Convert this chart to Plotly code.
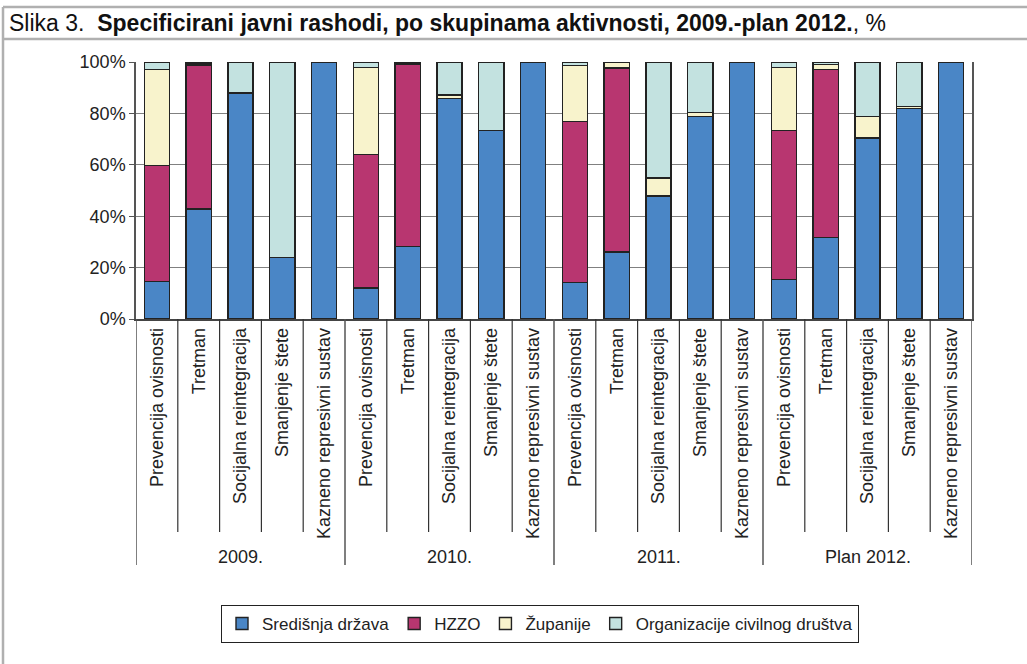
import plotly.graph_objects as go

groups = ["2009.", "2010.", "2011.", "Plan 2012."]
activities = ["Prevencija ovisnosti", "Tretman", "Socijalna reintegracija",
              "Smanjenje štete", "Kazneno represivni sustav"]

series_names = ["Središnja država", "HZZO", "Županije", "Organizacije civilnog društva"]
colors = ["#4A86C6", "#B83670", "#F8F3CC", "#C3E2E0"]

sredisnja = [14.7, 42.8, 88.0, 24.0, 100,
             12.0, 28.1, 85.7, 73.3, 100,
             14.1, 26.0, 47.9, 78.9, 100,
             15.4, 31.8, 70.4, 81.9, 100]
hzzo = [45.1, 55.8, 0, 0, 0,
        52.1, 71.2, 0, 0, 0,
        62.7, 71.7, 0, 0, 0,
        57.9, 65.3, 0, 0, 0]
zupanije = [37.3, 0.7, 0, 0, 0,
            33.8, 0, 1.5, 0, 0,
            21.9, 2.3, 7.0, 1.4, 0,
            24.5, 2.0, 8.5, 0.7, 0]
civilno = [2.9, 0.7, 12.0, 76.0, 0,
           2.1, 0.7, 12.8, 26.7, 0,
           1.3, 0, 45.1, 19.7, 0,
           2.2, 0.9, 21.1, 17.4, 0]

y_ticks = [0, 20, 40, 60, 80, 100]
y_ticktext = [f"{v}%" for v in y_ticks]

values = [sredisnja, hzzo, zupanije, civilno]
n = len(groups) * len(activities)
xs = list(range(n))
labels = [a for g in groups for a in activities]

font = "Liberation Sans, Arial, sans-serif"

fig = go.Figure()
for name, col, vals in zip(series_names, colors, values):
    fig.add_trace(go.Bar(
        x=xs, y=vals, name=name,
        marker=dict(color=col, line=dict(color="#222222", width=1.4)),
        width=0.6,
    ))

# plot-area pixel geometry helpers
L, R, T, B = 136, 972, 62, 319
W, H = 1027, 664
def px(xp):
    return (xp - L) / (R - L)
def py(yp):
    return (B - yp) / (B - T)

shapes = []
# category dividers
for i in range(n - 1):
    if (i + 1) % len(activities) != 0:
        shapes.append(dict(type="line", xref="x", yref="paper",
                           x0=i + 0.5, x1=i + 0.5, y0=0, y1=py(532),
                           line=dict(color="#333333", width=1.2)))
# group dividers
for k in range(len(groups) + 1):
    xv = k * len(activities) - 0.5
    shapes.append(dict(type="line", xref="x", yref="paper",
                       x0=xv, x1=xv, y0=0, y1=py(565),
                       line=dict(color="#555555", width=1.5)))
# outer frame
frame_col = "#B0B0B0"
shapes.append(dict(type="line", xref="paper", yref="paper",
                   x0=px(3), x1=px(3), y0=py(7), y1=py(664),
                   line=dict(color=frame_col, width=2.5)))
shapes.append(dict(type="line", xref="paper", yref="paper",
                   x0=px(3), x1=px(1027), y0=py(7), y1=py(7),
                   line=dict(color=frame_col, width=2.5)))
shapes.append(dict(type="line", xref="paper", yref="paper",
                   x0=px(3), x1=px(1027), y0=py(39), y1=py(39),
                   line=dict(color=frame_col, width=2.5)))

annotations = []
for k, g in enumerate(groups):
    annotations.append(dict(x=k * len(activities) + 2, xref="x",
                            y=py(557), yref="paper", text=g, showarrow=False,
                            xanchor="center", yanchor="middle",
                            font=dict(family=font, size=18, color="#222222")))
annotations.append(dict(x=px(7), xref="paper", y=py(23), yref="paper",
                        xanchor="left", yanchor="middle", showarrow=False,
                        text="Slika 3.  <b>Specificirani javni rashodi, po skupinama aktivnosti, 2009.-plan 2012.</b>, %",
                        font=dict(family="Liberation Sans Narrow, Arial Narrow, sans-serif",
                                  size=23, color="#111111")))

fig.update_layout(
    width=W, height=H,
    barmode="stack",
    margin=dict(l=L, r=W - R, t=T, b=H - B, autoexpand=False),
    paper_bgcolor="white", plot_bgcolor="white",
    font=dict(family=font, size=17, color="#222222"),
    showlegend=True,
    legend=dict(orientation="h", x=px(540), xanchor="center",
                y=py(605), yanchor="top",
                bordercolor="#222222", borderwidth=1,
                font=dict(family=font, size=17, color="#222222"),
                traceorder="normal", itemwidth=30),
    shapes=shapes,
    annotations=annotations,
    bargap=0.4,
)
fig.update_xaxes(
    range=[-0.5, n - 0.5], tickmode="array", tickvals=xs, ticktext=labels,
    tickangle=-90, ticks="", showgrid=False, showline=True,
    linecolor="#444444", linewidth=1.5, zeroline=False,
    tickfont=dict(family=font, size=18, color="#222222"),
)
fig.update_yaxes(
    range=[0, 100], tickmode="array", tickvals=y_ticks, ticktext=y_ticktext,
    showgrid=True, gridcolor="#808080", gridwidth=1.3,
    showline=True, linecolor="#555555", linewidth=1.5, mirror=True,
    ticks="outside", ticklen=5, tickcolor="#555555",
    zeroline=False,
    tickfont=dict(family=font, size=18, color="#222222"),
)

fig.write_html("out.html", config={"displayModeBar": False},
               post_script=["document.body.style.margin='0px';"])
